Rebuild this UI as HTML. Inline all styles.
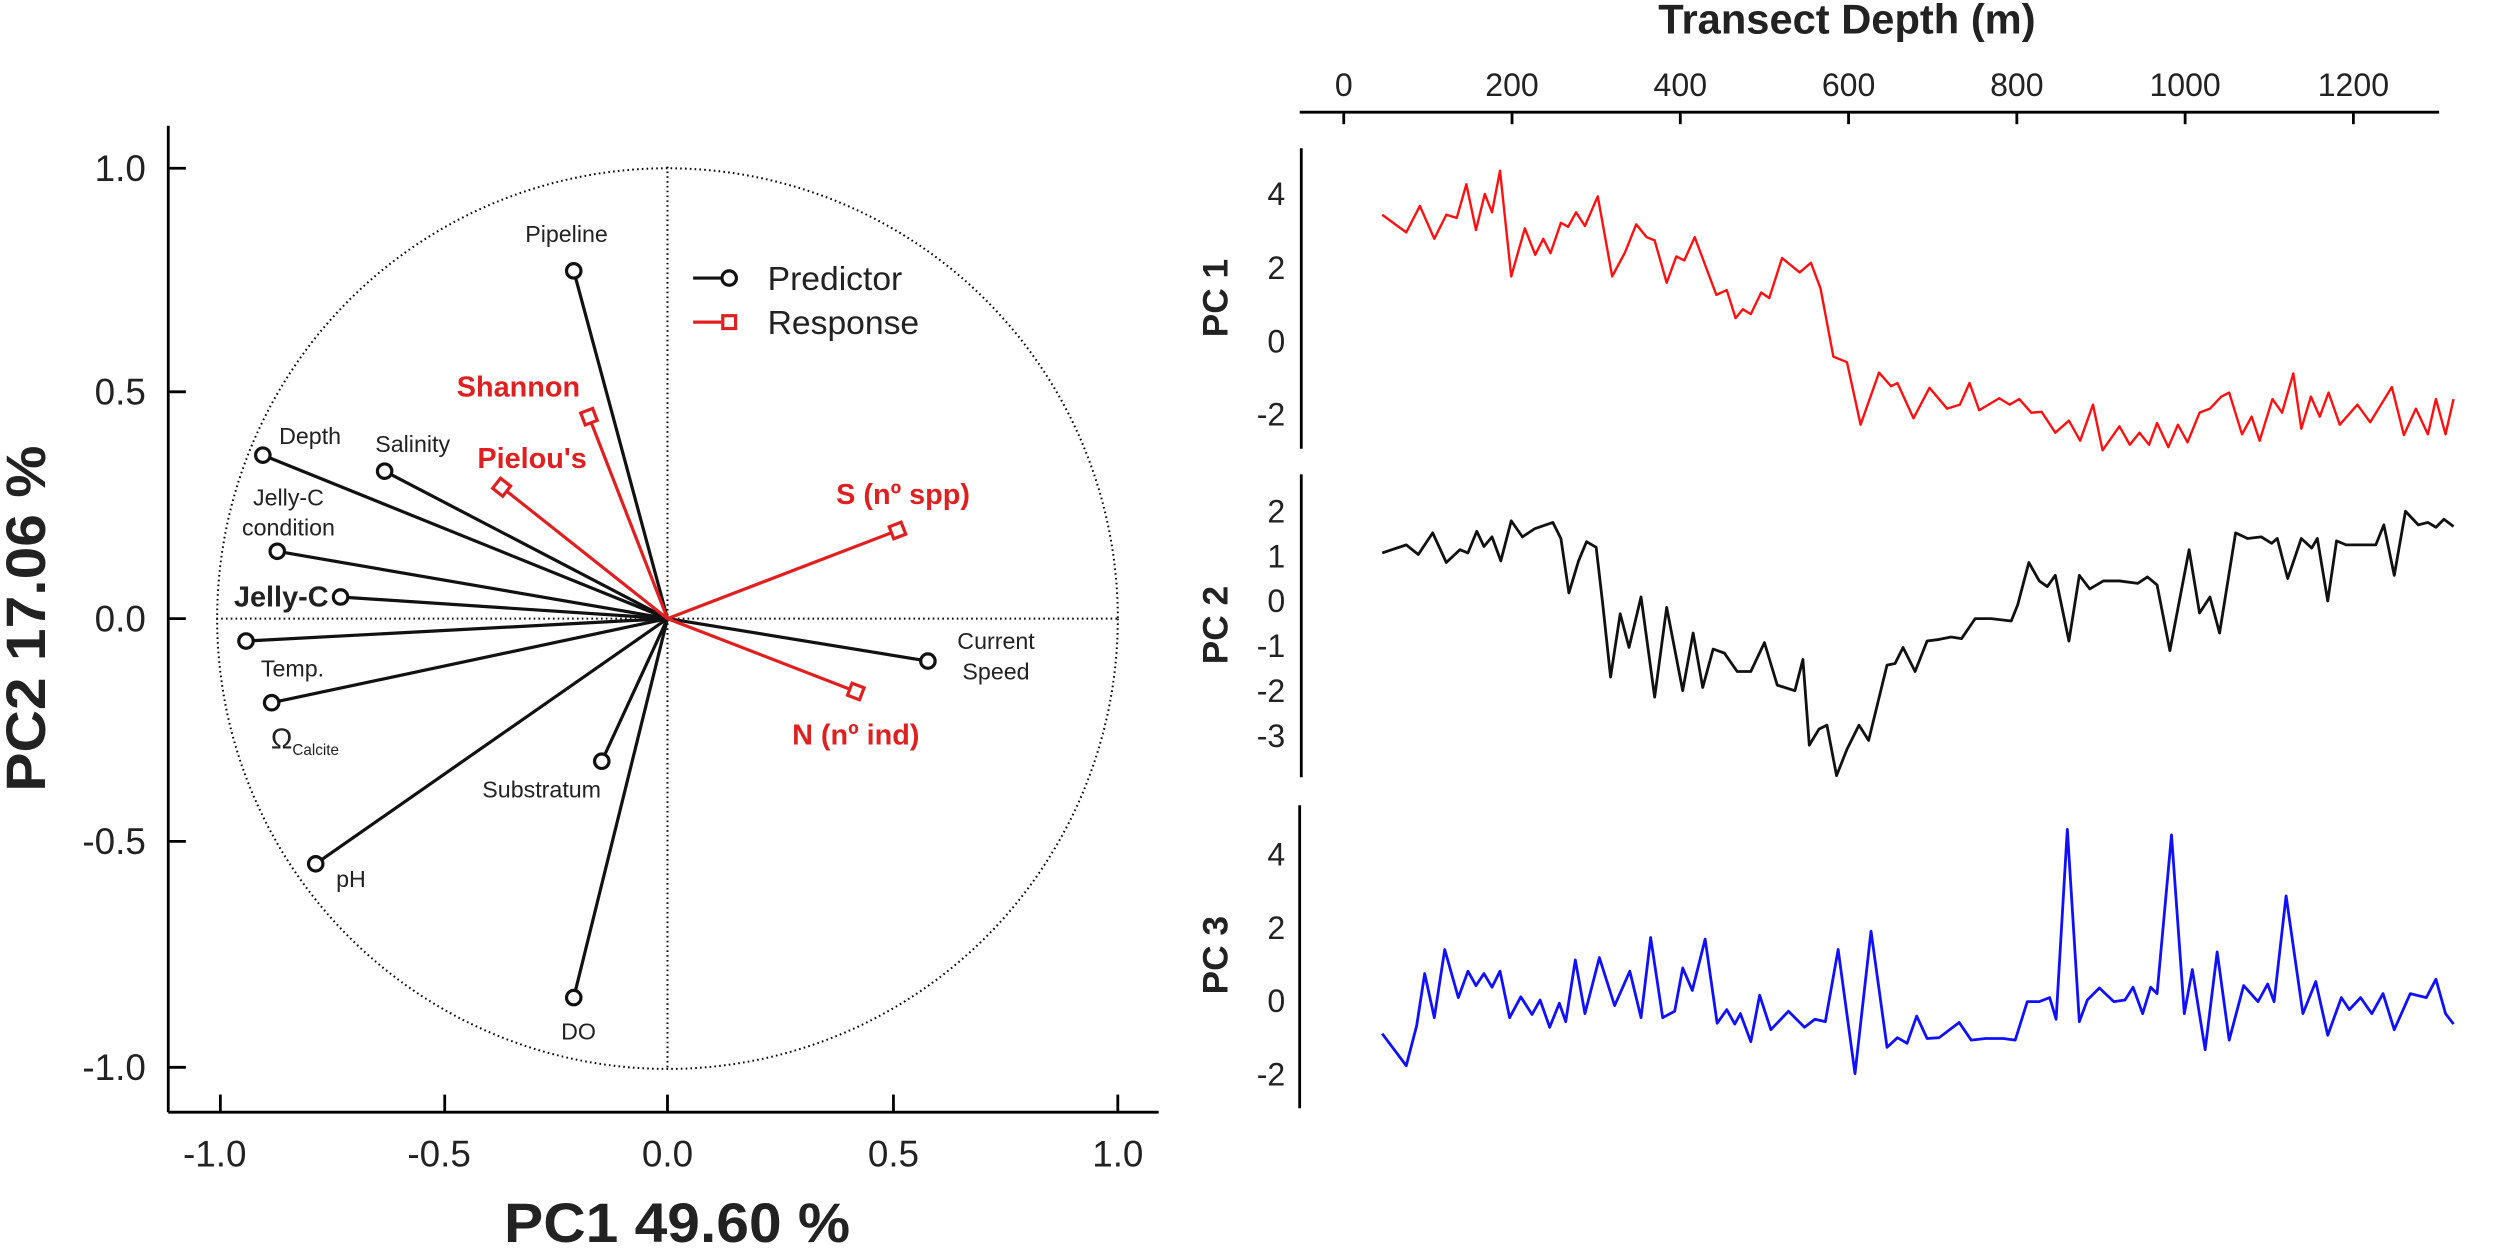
<!DOCTYPE html>
<html><head><meta charset="utf-8"><style>html,body{margin:0;padding:0;background:#fff}svg{display:block}</style></head><body>
<svg width="2500" height="1249" viewBox="0 0 2500 1249" xmlns="http://www.w3.org/2000/svg" font-family="Liberation Sans, sans-serif">
<rect width="2500" height="1249" fill="#fff"/>
<g transform="scale(0.8013)">
<circle cx="833" cy="772" r="562" fill="none" stroke="#000" stroke-width="2.5" stroke-dasharray="2,4"/>
<line x1="833" y1="208" x2="833" y2="1336" stroke="#000" stroke-width="2.5" stroke-dasharray="2,4"/>
<line x1="270" y1="772" x2="1397" y2="772" stroke="#000" stroke-width="2.5" stroke-dasharray="2,4"/>
<g stroke="#000" stroke-width="3.5" fill="none">
<line x1="210" y1="157" x2="210" y2="1388"/><line x1="210" y1="1388" x2="1446" y2="1388"/>
<line x1="210" y1="210" x2="232" y2="210"/><line x1="210" y1="489" x2="232" y2="489"/><line x1="210" y1="772" x2="232" y2="772"/><line x1="210" y1="1050" x2="232" y2="1050"/><line x1="210" y1="1332" x2="232" y2="1332"/>
<line x1="275" y1="1388" x2="275" y2="1366"/><line x1="555" y1="1388" x2="555" y2="1366"/><line x1="833" y1="1388" x2="833" y2="1366"/><line x1="1115" y1="1388" x2="1115" y2="1366"/><line x1="1395" y1="1388" x2="1395" y2="1366"/>
</g>
<g font-size="46" text-anchor="end" fill="#222">
<text x="182" y="226">1.0</text><text x="182" y="505">0.5</text><text x="182" y="788">0.0</text><text x="182" y="1066">-0.5</text><text x="182" y="1348">-1.0</text>
</g>
<g font-size="46" text-anchor="middle" fill="#222">
<text x="268" y="1456">-1.0</text><text x="548" y="1456">-0.5</text><text x="833" y="1456">0.0</text><text x="1115" y="1456">0.5</text><text x="1395" y="1456">1.0</text>
</g>
<text x="629" y="1550" font-size="70" font-weight="bold" fill="#222" textLength="432" lengthAdjust="spacingAndGlyphs">PC1 49.60 %</text>
<text transform="translate(56,772) rotate(-90)" x="-216" font-size="70" font-weight="bold" fill="#222" textLength="432" lengthAdjust="spacingAndGlyphs">PC2 17.06 %</text>
<g stroke="#111" stroke-width="4" fill="none">
<line x1="833" y1="772" x2="716" y2="338"/><line x1="833" y1="772" x2="328" y2="568"/><line x1="833" y1="772" x2="480" y2="588"/><line x1="833" y1="772" x2="346" y2="688"/><line x1="833" y1="772" x2="425" y2="745"/><line x1="833" y1="772" x2="307" y2="800"/><line x1="833" y1="772" x2="339" y2="877"/><line x1="833" y1="772" x2="394" y2="1078"/><line x1="833" y1="772" x2="751" y2="950"/><line x1="833" y1="772" x2="716" y2="1245"/><line x1="833" y1="772" x2="1158" y2="825"/>
</g>
<g stroke="#e02020" stroke-width="4" fill="none">
<line x1="833" y1="772" x2="735" y2="520"/><line x1="833" y1="772" x2="626" y2="608"/><line x1="833" y1="772" x2="1120" y2="662"/><line x1="833" y1="772" x2="1068" y2="863"/>
</g>
<g stroke="#111" stroke-width="4" fill="#fff">
<circle cx="716" cy="338" r="9"/><circle cx="328" cy="568" r="9"/><circle cx="480" cy="588" r="9"/><circle cx="346" cy="688" r="9"/><circle cx="425" cy="745" r="9"/><circle cx="307" cy="800" r="9"/><circle cx="339" cy="877" r="9"/><circle cx="394" cy="1078" r="9"/><circle cx="751" cy="950" r="9"/><circle cx="716" cy="1245" r="9"/><circle cx="1158" cy="825" r="9"/>
</g>
<g stroke="#e02020" stroke-width="4" fill="#fff">
<rect x="-8" y="-8" width="16" height="16" transform="translate(735,520) rotate(-21)"/>
<rect x="-8" y="-8" width="16" height="16" transform="translate(626,608) rotate(38)"/>
<rect x="-8" y="-8" width="16" height="16" transform="translate(1120,662) rotate(-21)"/>
<rect x="-8" y="-8" width="16" height="16" transform="translate(1068,863) rotate(21)"/>
</g>
<g font-size="29" fill="#222" text-anchor="middle">
<text x="707" y="302">Pipeline</text><text x="387" y="554">Depth</text><text x="515" y="564">Salinity</text>
<text x="360" y="631">Jelly-C</text><text x="360" y="668">condition</text>
<text x="365" y="844">Temp.</text><text x="676" y="995">Substratum</text><text x="438" y="1107">pH</text><text x="722" y="1297">DO</text>
<text x="1243" y="810">Current</text><text x="1243" y="848">Speed</text>
<text x="338" y="934" text-anchor="start" font-size="36">Ω<tspan font-size="19" dy="8">Calcite</tspan></text>
</g>
<text x="410" y="757" font-size="36" font-weight="bold" text-anchor="end" fill="#222">Jelly-C</text>
<g font-size="36" font-weight="bold" fill="#e02020" text-anchor="middle">
<text x="647" y="495">Shannon</text><text x="664" y="584">Pielou's</text><text x="1127" y="629">S (nº spp)</text><text x="1068" y="929">N (nº ind)</text>
</g>
<line x1="865" y1="347" x2="900" y2="347" stroke="#111" stroke-width="4"/><circle cx="910" cy="347" r="9" stroke="#111" stroke-width="4" fill="#fff"/>
<line x1="865" y1="402" x2="900" y2="402" stroke="#e02020" stroke-width="4"/><rect x="902" y="394" width="16" height="16" stroke="#e02020" stroke-width="4" fill="#fff"/>
<g font-size="42" fill="#222"><text x="958" y="362">Predictor</text><text x="958" y="417">Response</text></g>
<g font-size="44" font-weight="bold" fill="#222" text-anchor="middle">
<text transform="translate(1532,372) rotate(-90)">PC 1</text>
<text transform="translate(1532,780) rotate(-90)">PC 2</text>
<text transform="translate(1532,1192) rotate(-90)">PC 3</text>
</g>
</g>
<g transform="translate(1250,0) scale(0.8013)">
<text x="745" y="42" font-size="52" font-weight="bold" text-anchor="middle" fill="#222">Transect Depth (m)</text>
<g stroke="#000" stroke-width="3.5" fill="none">
<line x1="62" y1="140" x2="1484" y2="140"/>
<line x1="117" y1="140" x2="117" y2="155"/><line x1="327" y1="140" x2="327" y2="155"/><line x1="537" y1="140" x2="537" y2="155"/><line x1="747" y1="140" x2="747" y2="155"/><line x1="957" y1="140" x2="957" y2="155"/><line x1="1167" y1="140" x2="1167" y2="155"/><line x1="1377" y1="140" x2="1377" y2="155"/>
<line x1="64" y1="185" x2="64" y2="560"/><line x1="64" y1="592" x2="64" y2="970"/><line x1="62" y1="1005" x2="62" y2="1383"/>
</g>
<g font-size="40" text-anchor="middle" fill="#222">
<text x="117" y="120">0</text><text x="327" y="120">200</text><text x="537" y="120">400</text><text x="747" y="120">600</text><text x="957" y="120">800</text><text x="1167" y="120">1000</text><text x="1377" y="120">1200</text>
</g>
<g font-size="40" text-anchor="end" fill="#222">
<text x="44" y="256">4</text><text x="44" y="348">2</text><text x="44" y="440">0</text><text x="44" y="531">-2</text>
<text x="44" y="652">2</text><text x="44" y="708">1</text><text x="44" y="764">0</text><text x="44" y="820">-1</text><text x="44" y="876">-2</text><text x="44" y="932">-3</text>
<text x="44" y="1080">4</text><text x="44" y="1172">2</text><text x="44" y="1263">0</text><text x="44" y="1355">-2</text>
</g>
<polyline fill="none" stroke="#ff1010" stroke-width="3" stroke-linejoin="round" points="165,268 195,290 212,257 230,298 245,268 258,272 270,230 282,287 293,242 302,265 312,213 326,345 343,285 356,318 366,298 375,316 388,278 397,283 407,265 418,282 434,245 452,345 468,315 482,280 495,296 505,300 520,353 532,320 542,325 555,296 582,368 595,362 606,397 615,386 625,392 638,365 648,372 664,322 686,340 700,328 712,360 728,445 745,452 762,530 785,465 800,482 808,478 828,522 848,484 870,510 886,505 898,478 910,512 935,497 948,505 960,498 975,515 988,514 1005,540 1022,525 1036,550 1052,505 1064,562 1085,532 1098,555 1110,540 1122,555 1132,528 1146,558 1158,530 1170,552 1185,515 1198,510 1212,495 1222,490 1238,542 1250,520 1260,550 1276,498 1288,515 1302,466 1312,535 1324,495 1335,520 1346,490 1360,530 1382,505 1398,527 1425,483 1440,543 1455,510 1470,542 1480,498 1492,542 1502,498"/>
<polyline fill="none" stroke="#111" stroke-width="3.5" stroke-linejoin="round" points="165,690 195,680 210,692 228,665 245,702 262,686 272,690 283,663 292,682 302,670 313,700 326,650 340,670 355,660 378,652 388,672 398,740 410,700 420,676 432,683 440,752 450,845 462,766 473,808 488,745 505,870 520,758 540,862 553,790 565,858 578,810 592,815 608,838 625,838 642,802 658,855 680,862 690,823 698,930 710,910 720,905 732,968 745,935 760,905 772,924 795,830 805,828 815,808 830,838 845,800 860,798 875,795 888,797 905,772 925,772 950,775 958,755 972,702 985,725 995,732 1005,718 1022,800 1035,718 1048,735 1065,725 1085,725 1108,728 1120,720 1132,730 1148,812 1172,686 1185,765 1198,745 1210,790 1230,665 1245,672 1262,670 1275,678 1282,672 1295,722 1312,672 1325,684 1332,672 1345,750 1356,675 1368,680 1390,680 1405,680 1415,655 1428,718 1442,638 1458,655 1470,652 1480,658 1490,648 1502,657"/>
<polyline fill="none" stroke="#1010ff" stroke-width="3.5" stroke-linejoin="round" points="165,1290 195,1330 208,1280 218,1215 230,1270 243,1185 260,1245 272,1212 282,1230 292,1215 302,1232 312,1212 324,1270 338,1244 352,1266 362,1248 374,1282 386,1252 394,1275 406,1198 418,1265 436,1195 455,1255 474,1212 488,1270 500,1170 515,1270 530,1262 540,1208 552,1236 568,1172 583,1277 595,1260 605,1278 612,1265 625,1300 636,1242 650,1285 672,1262 692,1282 705,1272 718,1275 734,1185 755,1340 775,1162 795,1307 808,1295 820,1302 832,1268 845,1296 860,1295 885,1276 900,1298 918,1296 940,1296 955,1298 970,1250 985,1250 998,1245 1006,1272 1020,1035 1035,1275 1045,1248 1060,1233 1078,1250 1092,1248 1102,1232 1114,1265 1124,1232 1132,1240 1150,1042 1166,1265 1176,1210 1192,1310 1207,1188 1222,1298 1240,1230 1258,1250 1270,1228 1278,1250 1293,1118 1314,1265 1330,1225 1345,1292 1362,1245 1372,1260 1386,1245 1400,1265 1414,1240 1428,1285 1448,1240 1468,1245 1480,1222 1492,1265 1502,1278"/>
</g>
</svg>
</body></html>
